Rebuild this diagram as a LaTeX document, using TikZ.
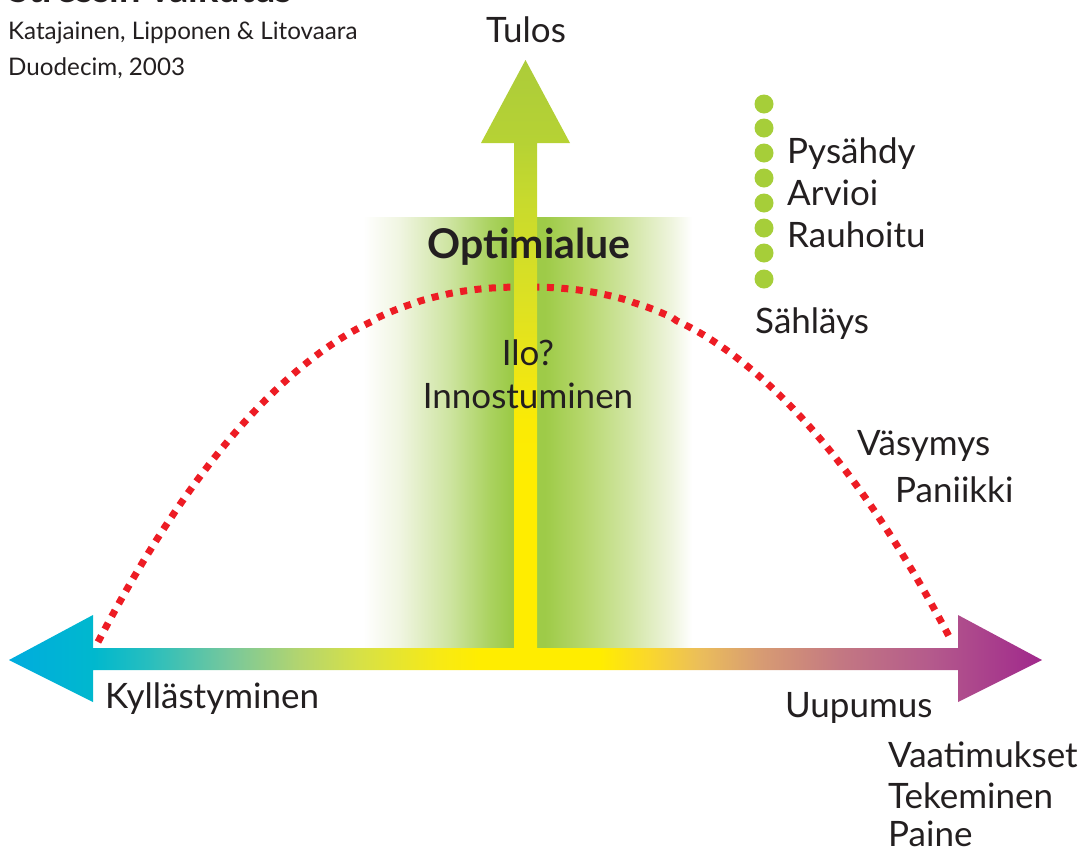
\documentclass[tikz,border=0pt]{standalone}
\usepackage{fontspec}
\setmainfont{Lato}

\definecolor{ink}{RGB}{35,31,32}
\definecolor{dotred}{RGB}{237,28,36}
\definecolor{dotgreen}{RGB}{166,206,57}

% cyan -> yellow -> purple along the horizontal axis (25bp..75bp spans the shape)
\pgfdeclarehorizontalshading{axisgrad}{100bp}{%
  rgb(0bp)=(0,.675,.871); rgb(25bp)=(0,.675,.871);
  rgb(29.1bp)=(0,.722,.808);
  rgb(31.8bp)=(.157,.745,.745);
  rgb(35.7bp)=(.471,.784,.608);
  rgb(39.1bp)=(.706,.835,.431);
  rgb(42bp)=(.843,.882,.275);
  rgb(45.9bp)=(.973,.918,.078);
  rgb(47.8bp)=(1,.929,0);
  rgb(53.6bp)=(1,.929,0);
  rgb(56bp)=(.98,.843,.176);
  rgb(58.4bp)=(.922,.745,.353);
  rgb(61.4bp)=(.843,.608,.451);
  rgb(65.2bp)=(.765,.471,.51);
  rgb(69.6bp)=(.706,.353,.549);
  rgb(75bp)=(.627,.157,.549); rgb(100bp)=(.627,.157,.549)}

% yellow at the bottom -> lime at the tip
\pgfdeclareverticalshading{upgrad}{100bp}{%
  rgb(0bp)=(1,.929,0); rgb(25bp)=(1,.929,0);
  rgb(40bp)=(1,.929,0);
  rgb(45bp)=(.98,.92,.02);
  rgb(49bp)=(.933,.902,.078);
  rgb(55bp)=(.863,.882,.137);
  rgb(63.3bp)=(.784,.855,.176);
  rgb(68.1bp)=(.714,.824,.204);
  rgb(75bp)=(.675,.8,.227); rgb(100bp)=(.675,.8,.227)}

% soft green band, fading to white on both sides
\pgfdeclarehorizontalshading{bandgrad}{100bp}{%
  rgb(0bp)=(1,1,1); rgb(25bp)=(1,1,1);
  rgb(30.6bp)=(.941,.961,.882);
  rgb(38.2bp)=(.804,.894,.627);
  rgb(44.3bp)=(.667,.824,.373);
  rgb(47.6bp)=(.608,.792,.275);
  rgb(52.7bp)=(.62,.796,.282);
  rgb(58bp)=(.706,.839,.412);
  rgb(65.6bp)=(.824,.902,.647);
  rgb(71.7bp)=(.933,.957,.863);
  rgb(75bp)=(1,1,1); rgb(100bp)=(1,1,1)}

\begin{document}
\begin{tikzpicture}[x=1pt,y=-1pt,
  lbl/.style={anchor=base west, inner sep=0pt, text=ink,
    font=\fontsize{35}{42}\selectfont},
  lblc/.style={lbl, anchor=base},
  smalllbl/.style={lbl, font=\fontsize{24.2}{29}\selectfont},
  titlelbl/.style={lbl, font=\bfseries\fontsize{38}{44}\selectfont},
  zonelbl/.style={lblc, font=\bfseries\fontsize{41}{48}\selectfont},
  reddots/.style={line width=7pt, draw=dotred, dash pattern=on 7pt off 7.5pt},
  greendot/.style={circle, fill=dotgreen, minimum size=19pt, inner sep=0pt}]
\useasboundingbox (0,0) rectangle (1080,852);

% optimal zone
\shade[shading=bandgrad] (363,217) rectangle (692,648);

% performance curve
\draw[reddots] plot[domain=-1:1, samples=200]
  ({525+427*\x},{287+355*(\x*\x)^1.15});

% vertical axis (performance)
\shade[shading=upgrad] (525.5,60) -- (570,143) -- (537,143) -- (537,659)
  -- (514,659) -- (514,143) -- (481,143) -- cycle;

% horizontal axis (stress)
\shade[shading=axisgrad] (9,660) -- (93,615) -- (93,648) -- (958,648)
  -- (958,615) -- (1042,660) -- (958,702) -- (958,670) -- (93,670)
  -- (93,702) -- cycle;

% bullet column
\foreach \yy [count=\i] in {104,128,153,178,203,228,253,279}
  \node[greendot] (dot\i) at (764,\yy) {};

% texts
\node[titlelbl] (title) at (8,2) {Stressin vaikutus};
\node[smalllbl] (authors) at (8,39) {Katajainen, Lipponen \& Litovaara};
\node[smalllbl] (source) at (8,75) {Duodecim, 2003};

\node[lblc] (tulos) at (526,42) {Tulos};
\node[zonelbl] (optimi) at (529,258) {Optimialue};
\node[lblc] (ilo) at (528,365) {Ilo?};
\node[lblc] (innost) at (528,408) {Innostuminen};

\node[lbl] (pysahdy) at (787,163) {Pysähdy};
\node[lbl] (arvioi) at (787,205) {Arvioi};
\node[lbl] (rauhoitu) at (787,247) {Rauhoitu};
\node[lbl] (sahlays) at (755,333) {Sähläys};
\node[lbl] (vasymys) at (857,455) {Väsymys};
\node[lbl] (paniikki) at (895,502) {Paniikki};

\node[lbl] (kyllast) at (105,708) {Kyllästyminen};
\node[lbl] (uupumus) at (785,717) {Uupumus};
\node[lbl] (vaatim) at (888,767) {Vaatimukset};
\node[lbl] (tekem) at (888,808) {Tekeminen};
\node[lbl] (paine) at (888,846) {Paine};
\end{tikzpicture}
\end{document}
